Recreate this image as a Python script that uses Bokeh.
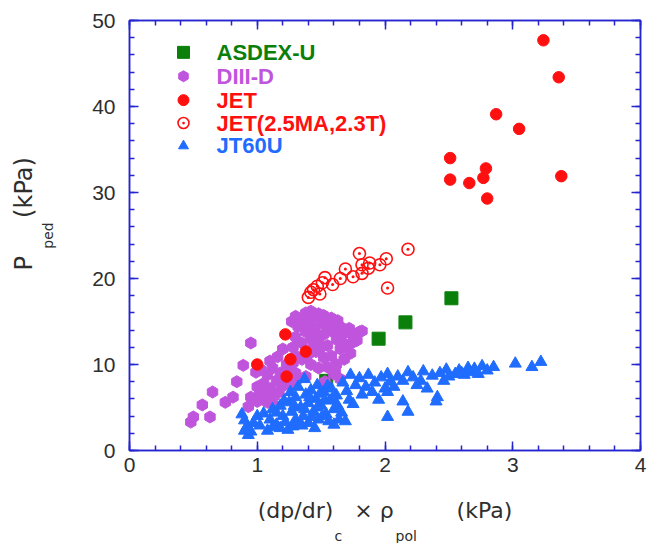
import numpy as np
from bokeh.plotting import figure
from bokeh.models import Range1d, FixedTicker, LinearAxis, Label, Title
from bokeh.embed import file_html
from bokeh.resources import INLINE

# ---- data (kPa) ----
asdex_x = [1.54, 1.95, 2.16, 2.52]
asdex_y = [8.1, 13.0, 14.9, 17.7]

diiid_x = [0.48, 0.50, 0.63, 0.57, 0.65, 0.75, 0.81, 0.84, 0.89, 0.95, 0.93, 0.95, 1.00, 0.99,
           1.03, 1.08, 1.12, 1.05, 1.10, 1.15, 1.18, 1.20, 1.13, 1.06, 1.02, 1.17, 1.22, 1.25,
           1.27, 1.10, 1.16, 1.20, 1.23, 1.30, 1.33, 1.38, 1.00, 1.08, 1.14,
           1.28, 1.30, 1.32, 1.35, 1.38, 1.40, 1.42, 1.45, 1.48, 1.50, 1.52, 1.55, 1.58, 1.60,
           1.63, 1.66, 1.68, 1.72, 1.75, 1.78, 1.80, 1.35, 1.38, 1.42, 1.45, 1.48, 1.52, 1.55,
           1.58, 1.62, 1.65, 1.70, 1.73, 1.68, 1.62, 1.58, 1.52, 1.46, 1.40, 1.35, 1.42, 1.48,
           1.55, 1.60, 1.65, 1.53, 1.30, 1.44, 1.50, 1.56, 1.62, 1.66, 1.36, 1.47, 1.74, 1.28,
           1.58, 1.40, 1.27, 1.30, 1.82, 1.61]
diiid_y = [3.3, 3.9, 3.9, 5.3, 6.8, 5.6, 6.2, 8.0, 9.9, 12.5, 5.1, 6.2, 5.7, 9.1,
           9.4, 8.8, 9.6, 7.8, 7.2, 8.1, 9.0, 7.5, 6.3, 6.5, 6.9, 6.8, 8.3, 9.3,
           7.8, 10.4, 10.9, 11.8, 10.0, 9.0, 8.4, 8.6, 7.4, 5.6, 5.2,
           12.0, 13.2, 14.4, 15.2, 16.0, 15.3, 16.2, 15.6, 15.9, 14.8, 15.7, 15.2, 15.4, 14.6,
           15.1, 14.3, 13.6, 14.2, 13.4, 12.8, 13.8, 12.5, 13.8, 13.0, 14.2, 12.6, 13.5, 12.2,
           13.9, 12.9, 11.8, 12.1, 11.3, 10.6, 10.0, 11.0, 10.8, 11.5, 11.2, 10.6, 10.0, 9.6,
           9.7, 8.9, 8.3, 8.0, 11.0, 12.1, 12.0, 14.0, 14.0, 12.6, 14.6, 13.3, 12.5, 10.2,
           9.5, 14.8, 15.0, 15.6, 13.9, 9.3]

jet_x = [3.24, 3.36, 2.87, 3.05, 2.51, 2.51, 2.66, 2.79, 2.77, 2.80, 3.38,
         1.00, 1.22, 1.26, 1.38, 1.23]
jet_y = [47.7, 43.4, 39.1, 37.4, 34.0, 31.5, 31.1, 32.8, 31.7, 29.3, 31.9,
         10.0, 13.5, 10.6, 11.5, 8.6]

jet25_x = [2.18, 1.80, 2.01, 1.96, 1.88, 1.87, 1.82, 1.82, 1.69, 1.75, 1.65, 1.59, 1.53,
           1.51, 1.47, 1.44, 1.42, 1.40, 1.49, 2.02]
jet25_y = [23.4, 22.9, 22.3, 21.6, 21.8, 21.2, 20.6, 21.6, 21.1, 20.2, 20.0, 19.3, 20.1,
           19.5, 19.1, 18.7, 18.4, 17.8, 18.2, 18.9]

jt60u_x = [0.88, 0.90, 0.92, 0.95, 0.97, 0.93, 1.00, 0.90, 1.08, 1.24,
           1.05, 1.10, 1.12, 1.15, 1.18, 1.20, 1.22, 1.25, 1.27, 1.30, 1.30, 1.32, 1.34, 1.36,
           1.38, 1.40, 1.40, 1.42, 1.44, 1.46, 1.48, 1.50, 1.52, 1.54, 1.55, 1.57, 1.60, 1.62,
           1.64, 1.28, 1.35, 1.45, 1.18, 1.58, 1.47, 1.37, 1.60,
           1.15, 1.21, 1.26, 1.29, 1.33, 1.37, 1.41, 1.43, 1.47, 1.49, 1.51, 1.53, 1.56, 1.59,
           1.63, 1.66, 1.12, 1.02,
           1.69, 1.70, 1.72, 1.75, 1.77, 1.80, 1.82, 1.85, 1.87, 1.90, 1.92, 1.95, 1.97, 2.00,
           2.02, 2.04, 2.02, 2.02, 2.07, 2.10, 2.14, 2.14, 2.18, 2.18, 1.67, 1.73,
           2.22, 2.28, 2.30, 2.33, 2.37, 2.41, 2.40, 2.43, 2.46, 2.50, 2.55, 2.58, 2.62, 2.65,
           2.67, 2.70, 2.73, 2.76, 2.80, 2.85, 3.02, 3.15, 3.22, 2.25, 2.48, 2.60]
jt60u_y = [4.2, 3.5, 2.8, 2.2, 3.2, 1.8, 4.0, 2.3, 2.3, 2.4,
           4.3, 3.6, 4.8, 3.0, 5.2, 4.0, 3.3, 5.6, 4.5, 3.6, 6.2, 7.4, 5.0, 4.0,
           6.5, 3.2, 5.5, 7.0, 4.5, 6.0, 3.6, 5.2, 6.8, 4.2, 7.5, 5.8, 4.8, 6.4,
           3.6, 2.8, 2.9, 2.6, 2.6, 7.2, 7.6, 8.3, 3.0,
           4.4, 5.8, 6.8, 5.2, 3.0, 4.8, 6.2, 3.9, 5.0, 6.6, 4.0, 5.9, 3.4, 6.1,
           5.2, 4.4, 2.7, 2.9,
           3.4, 6.9, 5.9, 5.4, 7.6, 8.4, 6.5, 7.4, 8.8, 6.8, 7.9, 5.9, 8.5, 7.2,
           8.9, 8.0, 6.8, 3.9, 7.4, 8.6, 8.1, 5.7, 4.5, 9.1, 7.9, 8.8,
           8.5, 8.1, 9.2, 7.2, 8.7, 6.2, 5.7, 9.0, 8.1, 8.6, 8.9, 9.3, 8.8, 9.6,
           9.1, 9.5, 8.9, 9.8, 9.3, 9.7, 10.1, 9.7, 10.3, 7.6, 9.4, 9.0]

x_ticks = [0, 1, 2, 3, 4]
y_ticks = [0, 10, 20, 30, 40, 50]

series_names = ["ASDEX-U", "DIII-D", "JET", "JET(2.5MA,2.3T)", "JT60U"]
GREEN, PURPLE, RED, BLUE = "#0a800a", "#c055dd", "#ff1010", "#1f6cff"
AXIS = "#2424d0"
TEXT = "#2e2e2e"
NB = "\u00a0"  # non-collapsing space used to leave room for subscripts

# ---- figure: frame spans 129..640 px horizontally, 20..452 px vertically ----
W, H = 661, 543
L, R, T, B = 129, 21, 20, 91
p = figure(width=W, height=H, output_backend="svg", toolbar_location=None,
           x_range=Range1d(0, 4), y_range=Range1d(0, 50),
           min_border_left=L, min_border_right=R, min_border_top=T, min_border_bottom=B)
p.xgrid.visible = False
p.ygrid.visible = False
p.outline_line_color = AXIS
p.outline_line_width = 1.5

fw, fh = W - L - R, H - T - B
def dx(px):
    return (px - L) / fw * 4.0
def dy(py):
    return (H - B - py) / fh * 50.0

def xticker():
    return FixedTicker(ticks=x_ticks, minor_ticks=[round(i * 0.2, 1) for i in range(21)])
def yticker():
    return FixedTicker(ticks=y_ticks, minor_ticks=list(range(0, 51, 2)))

def style_axis(ax):
    ax.axis_line_color = AXIS
    ax.axis_line_width = 1.5
    ax.major_tick_line_color = AXIS
    ax.minor_tick_line_color = AXIS
    ax.major_tick_line_width = 1.5
    ax.minor_tick_line_width = 1.5
    ax.major_tick_in = 9
    ax.major_tick_out = 0
    ax.minor_tick_in = 5
    ax.minor_tick_out = 0
    ax.major_label_text_font = "Liberation Sans"
    ax.major_label_text_font_size = "21px"
    ax.major_label_text_color = TEXT

xa, ya = p.xaxis[0], p.yaxis[0]
xa.ticker = xticker()
ya.ticker = yticker()
style_axis(xa)
style_axis(ya)
xa.major_label_standoff = 7
ya.major_label_standoff = 14

# x title: (dp/dr)_c x rho_pol (kPa) -- main line as the axis label, subscripts below
xa.axis_label = "(dp/dr)" + NB * 3 + "\u00d7" + NB + "\u03c1" + NB * 9 + "(kPa)"
xa.axis_label_text_font = "DejaVu Sans"
xa.axis_label_text_font_size = "22px"
xa.axis_label_text_font_style = "normal"
xa.axis_label_text_color = TEXT
xa.axis_label_standoff = 23

# y title: P_ped (kPa) -- subscript as the axis label, main line further out
ya.axis_label = "ped"
ya.axis_label_text_font = "DejaVu Sans"
ya.axis_label_text_font_size = "14px"
ya.axis_label_text_font_style = "normal"
ya.axis_label_text_color = TEXT
ya.axis_label_standoff = 33

# tick marks on the top and right edges, without labels
top_ax = LinearAxis(ticker=xticker())
right_ax = LinearAxis(ticker=yticker())
for ax in (top_ax, right_ax):
    style_axis(ax)
    ax.major_label_text_font_size = "1px"
    ax.major_label_text_color = None
    ax.major_label_standoff = 0
p.add_layout(top_ax, "above")
p.add_layout(right_ax, "right")

x_sub = Title(text="c" + NB * 12 + "pol", align="left", offset=205, standoff=0,
              text_font="DejaVu Sans", text_font_size="14px", text_font_style="normal",
              text_color=TEXT)
p.add_layout(x_sub, "below")
y_main = Title(text="P" + NB * 5 + "(kPa)", align="left", offset=180, standoff=0,
               text_font="DejaVu Sans", text_font_size="24px", text_font_style="normal",
               text_color=TEXT)
p.add_layout(y_main, "left")

# ---- data marks ----
p.scatter(asdex_x, asdex_y, marker="square", size=13, fill_color=GREEN, line_color=GREEN)
p.scatter(diiid_x, diiid_y, marker="hex", size=12, angle=np.pi / 2,
          fill_color=PURPLE, line_color=PURPLE)
p.scatter(jt60u_x, jt60u_y, marker="triangle", size=12, fill_color=BLUE, line_color=BLUE)
p.scatter(jet25_x, jet25_y, marker="circle_dot", size=12, fill_color=None,
          line_color=RED, line_width=1.6)
p.scatter(jet_x, jet_y, marker="circle", size=11.5, fill_color=RED, line_color=RED)

# ---- legend ----
leg_markers = [("square", 12, GREEN, GREEN), ("hex", 11, PURPLE, PURPLE),
               ("circle", 11, RED, RED), ("circle_dot", 11, None, RED),
               ("triangle", 10, BLUE, BLUE)]
leg_colors = [GREEN, PURPLE, RED, RED, BLUE]
leg_py = [52, 76, 100, 123, 146]
for (mk, sz, fc, lc), name, col, py in zip(leg_markers, series_names, leg_colors, leg_py):
    kw = dict(angle=np.pi / 2) if mk == "hex" else {}
    p.scatter([dx(183)], [dy(py)], marker=mk, size=sz, fill_color=fc, line_color=lc,
              line_width=1.6 if fc is None else 1, **kw)
    p.add_layout(Label(x=dx(216), y=dy(py), text=name, text_color=col,
                       text_font="Liberation Sans", text_font_style="bold",
                       text_font_size="22px", text_baseline="middle", text_align="left"))

open("out.html", "w").write(file_html(p, INLINE))
